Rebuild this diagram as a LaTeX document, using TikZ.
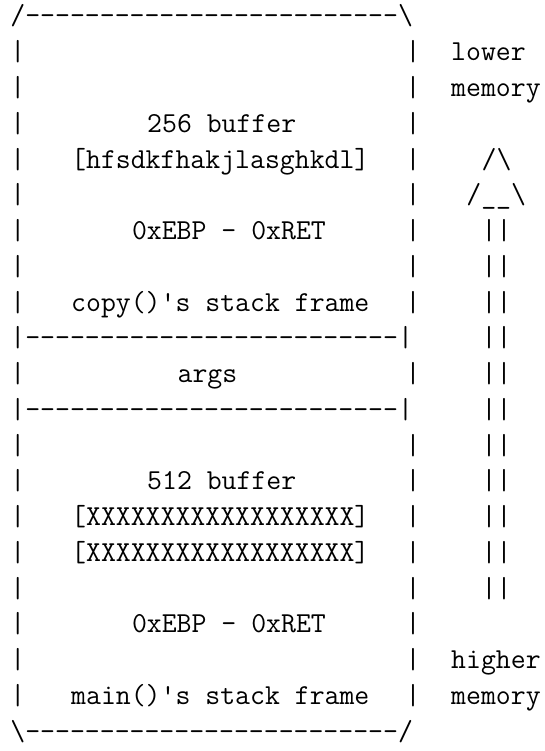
\documentclass[tikz,border=0pt]{standalone}
\usepackage{fontspec}
\setmonofont{Latin Modern Mono}
\newcommand{\dashes}{-{}-{}-{}-{}-{}-{}-{}-{}-{}-{}-{}-{}-{}-{}-{}-{}-{}-{}-{}-{}-{}-{}-{}-{}-{}}
\newcommand{\txt}[4]{\node[cell] (#1) at ({10.4+15.2*#2},{751-25-35.76*(#3-1)}) {#4};}
\tikzset{cell/.style={anchor=base west, inner sep=0pt, outer sep=0pt,
  font=\fontsize{28.95}{34}\selectfont\ttfamily}}
\begin{document}
\begin{tikzpicture}[x=1pt,y=1pt]
\useasboundingbox (0,0) rectangle (544,751);
\txt{top}{0}{1}{/\dashes\textbackslash}
\foreach \r in {2,...,9,11,13,14,15,16,17,18,19,20} {
  \txt{L\r}{0}{\r}{|}
  \txt{R\r}{26}{\r}{|}
}
\txt{sepa}{0}{10}{|\dashes|}
\txt{sepb}{0}{12}{|\dashes|}
\txt{bottom}{0}{21}{\textbackslash\dashes/}
\txt{lower}{29}{2}{lower}
\txt{memtop}{29}{3}{memory}
\txt{buf256}{9}{4}{256 buffer}
\txt{hfs}{4}{5}{[hfsdkfhakjlasghkdl]}
\txt{arrowtip}{31}{5}{/\textbackslash}
\txt{arrowbase}{30}{6}{/\_\_\textbackslash}
\txt{ebp1}{8}{7}{0xEBP - 0xRET}
\txt{copyframe}{4}{9}{copy()'s stack frame}
\txt{args}{11}{11}{args}
\txt{buf512}{9}{14}{512 buffer}
\txt{xa}{4}{15}{[XXXXXXXXXXXXXXXXXX]}
\txt{xb}{4}{16}{[XXXXXXXXXXXXXXXXXX]}
\txt{ebp2}{8}{18}{0xEBP - 0xRET}
\txt{higher}{29}{19}{higher}
\txt{mainframe}{4}{20}{main()'s stack frame}
\txt{membot}{29}{20}{memory}
\foreach \r in {7,...,17} {
  \txt{shaft\r}{31}{\r}{||}
}
\end{tikzpicture}
\end{document}
